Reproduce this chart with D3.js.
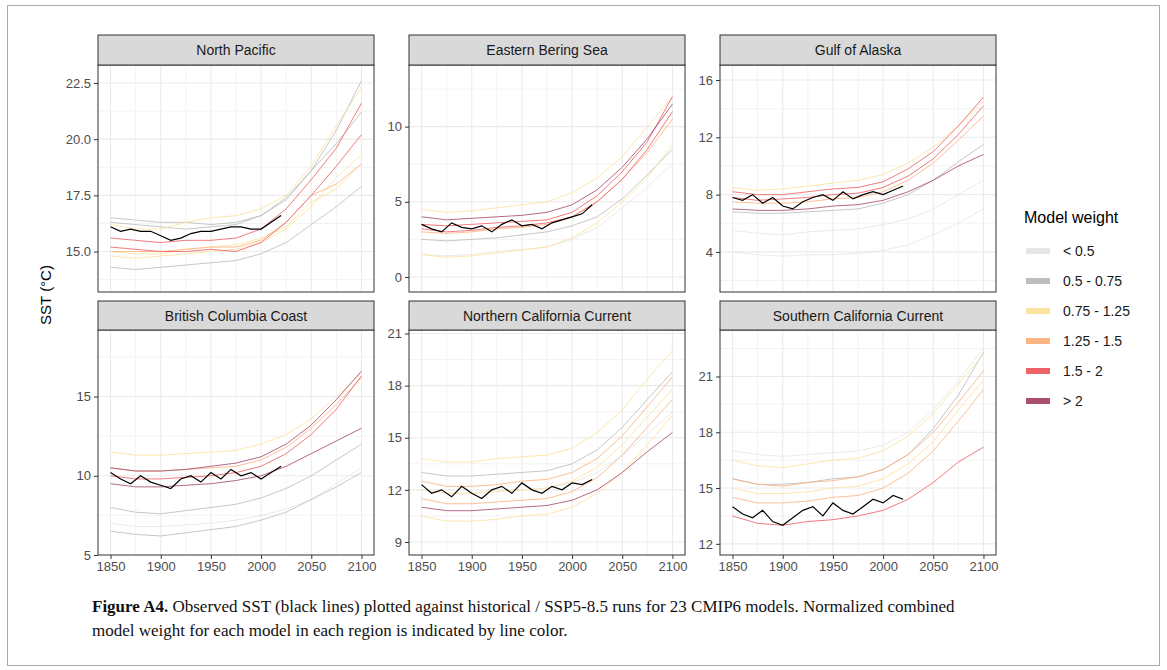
<!DOCTYPE html>
<html>
<head>
<meta charset="utf-8">
<script src="https://cdn.jsdelivr.net/npm/d3@7"></script>
<style>
  body { margin: 0; background: #fff; }
  svg { font-family: Arial, "Liberation Sans", sans-serif; }
</style>
</head>
<body>
<svg id="chart" width="1167" height="670"></svg>
<script>
// model years sampled every 25 years, observed every 10 years
var modelYears = [1850, 1875, 1900, 1925, 1950, 1975, 2000, 2025, 2050, 2075, 2100];
var obsYears = d3.range(1850, 2021, 10);
var xTicks = [1850, 1900, 1950, 2000, 2050, 2100];

var weightClasses = ['< 0.5', '0.5 - 0.75', '0.75 - 1.25', '1.25 - 1.5', '1.5 - 2', '> 2'];
var weightColors = ['#e6e6e6', '#bdbdbd', '#fde3a0', '#fcb482', '#ee6466', '#a8506e'];

var regions = ['North Pacific', 'Eastern Bering Sea', 'Gulf of Alaska',
  'British Columbia Coast', 'Northern California Current', 'Southern California Current'];
var yDomains = [[13.2, 23.3], [-1.0, 14.1], [1.2, 17.05], [5.0, 19.2], [8.25, 21.2], [11.4, 23.5]];
var yTicks = [[15, 17.5, 20, 22.5], [0, 5, 10], [4, 8, 12, 16], [5, 10, 15], [9, 12, 15, 18, 21], [12, 15, 18, 21]];

// [weight class index, values at modelYears]
var npModels = [
  [1, [16.5,16.4,16.3,16.3,16.2,16.3,16.6,17.3,18.6,20.4,22.6]],
  [1, [14.3,14.2,14.3,14.4,14.5,14.6,14.9,15.4,16.2,17.0,17.9]],
  [1, [16.3,16.2,16.1,16.0,16.1,16.2,16.6,17.4,18.6,19.8,21.2]],
  [2, [16.2,16.0,16.0,16.3,16.5,16.6,16.9,17.5,18.8,20.6,22.3]],
  [2, [14.8,14.7,14.8,14.9,15.0,15.1,15.4,16.0,17.0,18.3,19.3]],
  [2, [15.0,14.9,14.9,15.1,15.2,15.3,15.6,16.1,17.2,17.8,18.9]],
  [3, [15.0,15.0,15.0,15.1,15.2,15.2,15.5,16.3,17.5,18.0,18.9]],
  [4, [15.6,15.5,15.4,15.5,15.5,15.6,16.0,16.9,18.2,19.6,21.6]],
  [4, [15.2,15.1,15.0,15.0,15.1,15.0,15.4,16.3,17.5,18.8,20.2]]
];
var ebsModels = [
  [0, [1.5,1.4,1.5,1.7,1.8,2.0,2.5,3.3,4.6,6.0,7.5]],
  [1, [2.5,2.4,2.5,2.6,2.8,3.0,3.4,4.0,5.2,6.8,8.5]],
  [2, [4.5,4.3,4.4,4.6,4.8,5.0,5.6,6.6,8.0,10.0,12.0]],
  [2, [1.5,1.3,1.4,1.6,1.8,2.0,2.6,3.6,5.0,6.6,8.8]],
  [3, [3.0,2.9,3.0,3.2,3.3,3.5,4.0,5.0,6.5,8.3,10.5]],
  [4, [3.5,3.4,3.5,3.6,3.7,3.8,4.3,5.4,7.0,9.0,12.0]],
  [4, [3.2,3.0,3.1,3.3,3.4,3.6,4.0,5.0,6.5,8.5,11.0]],
  [5, [4.0,3.8,3.9,4.0,4.1,4.3,4.8,5.8,7.3,9.2,11.5]]
];
var goaModels = [
  [0, [4.0,3.8,3.7,3.8,3.8,3.9,4.1,4.5,5.2,6.0,7.0]],
  [0, [5.5,5.3,5.2,5.4,5.5,5.6,5.9,6.3,7.0,8.0,9.0]],
  [1, [6.8,6.7,6.7,6.8,6.9,7.0,7.4,8.0,9.0,10.3,11.5]],
  [2, [8.5,8.3,8.4,8.6,8.8,9.0,9.4,10.2,11.3,12.8,14.5]],
  [3, [7.5,7.4,7.4,7.5,7.7,7.8,8.2,9.0,10.2,11.8,13.5]],
  [4, [8.2,8.0,8.0,8.2,8.4,8.5,8.9,9.8,11.0,12.8,14.8]],
  [4, [7.8,7.6,7.7,7.8,8.0,8.1,8.5,9.3,10.5,12.2,14.2]],
  [5, [7.0,6.9,6.9,7.0,7.2,7.3,7.6,8.2,9.0,10.0,10.8]]
];
var bccModels = [
  [0, [7.0,6.8,6.8,6.9,7.0,7.2,7.5,7.9,8.5,9.5,10.5]],
  [1, [8.0,7.7,7.6,7.8,8.0,8.2,8.6,9.2,10.0,11.0,12.0]],
  [1, [6.5,6.3,6.2,6.4,6.6,6.8,7.2,7.7,8.5,9.3,10.2]],
  [2, [11.5,11.3,11.3,11.4,11.5,11.6,12.0,12.6,13.6,15.0,16.5]],
  [3, [10.5,10.3,10.3,10.4,10.5,10.6,11.0,11.8,13.0,14.5,16.2]],
  [4, [10.0,9.8,9.8,9.9,10.0,10.2,10.6,11.4,12.6,14.2,16.3]],
  [5, [9.5,9.3,9.3,9.4,9.5,9.7,10.0,10.6,11.4,12.2,13.0]],
  [5, [10.5,10.3,10.3,10.4,10.6,10.8,11.2,12.0,13.2,14.8,16.6]]
];
var nccModels = [
  [0, [12.0,11.8,11.8,12.0,12.0,12.1,12.4,13.0,14.0,15.2,16.5]],
  [1, [13.0,12.8,12.8,12.9,13.0,13.1,13.5,14.3,15.6,17.2,18.8]],
  [2, [13.8,13.6,13.6,13.8,13.9,14.0,14.4,15.3,16.6,18.4,20.0]],
  [2, [12.0,11.8,11.8,11.9,12.0,12.1,12.5,13.3,14.6,16.2,17.8]],
  [2, [10.5,10.2,10.2,10.3,10.5,10.6,11.0,11.8,13.0,14.6,16.3]],
  [3, [11.5,11.2,11.2,11.3,11.4,11.5,11.9,12.7,14.0,15.6,17.2]],
  [3, [12.5,12.2,12.2,12.3,12.5,12.6,13.0,13.8,15.1,16.8,18.5]],
  [5, [11.0,10.8,10.8,10.9,11.0,11.1,11.4,12.0,13.0,14.2,15.3]]
];
var sccModels = [
  [0, [17.0,16.8,16.7,16.8,16.9,17.0,17.3,18.0,19.2,20.8,22.5]],
  [1, [15.5,15.2,15.2,15.3,15.5,15.6,16.0,16.8,18.2,20.0,22.3]],
  [2, [16.5,16.2,16.1,16.3,16.5,16.6,17.0,17.8,19.0,20.6,22.2]],
  [2, [15.0,14.7,14.7,14.8,15.0,15.1,15.5,16.3,17.5,19.2,20.8]],
  [3, [14.5,14.2,14.2,14.3,14.5,14.6,15.0,15.8,17.0,18.6,20.3]],
  [3, [15.5,15.2,15.1,15.3,15.4,15.6,16.0,16.8,18.0,19.6,21.3]],
  [4, [13.5,13.1,13.0,13.2,13.3,13.5,13.8,14.4,15.3,16.4,17.2]]
];
var models = [npModels, ebsModels, goaModels, bccModels, nccModels, sccModels];

var observed = [
  [16.1,15.9,16.0,15.9,15.9,15.7,15.5,15.6,15.8,15.9,15.9,16.0,16.1,16.1,16.0,16.0,16.3,16.6],
  [3.5,3.2,3.0,3.6,3.3,3.2,3.4,3.0,3.5,3.8,3.4,3.5,3.2,3.6,3.8,4.0,4.2,4.8],
  [7.8,7.6,8.0,7.4,7.8,7.2,7.0,7.5,7.8,8.0,7.6,8.2,7.7,8.0,8.2,8.0,8.3,8.6],
  [10.2,9.8,9.5,10.0,9.6,9.4,9.2,9.8,10.0,9.6,10.2,9.8,10.4,10.0,10.2,9.8,10.2,10.6],
  [12.3,11.8,12.0,11.6,12.2,11.8,11.5,12.0,12.2,11.8,12.4,12.0,11.8,12.2,12.0,12.4,12.3,12.6],
  [14.0,13.6,13.4,13.8,13.2,13.0,13.4,13.8,14.0,13.5,14.2,13.8,13.6,14.0,14.4,14.2,14.6,14.4]
];

var svg = d3.select('#chart');

// figure frame
svg.append('rect').attr('x', 7.5).attr('y', 5.5).attr('width', 1152).attr('height', 660)
  .attr('fill', 'none').attr('stroke', '#aaa');

var panelX = [98, 409, 720];
var panelW = 276;
var rows = [{ strip: 35, top: 65, bottom: 292 }, { strip: 301, top: 330, bottom: 555 }];

regions.forEach(function(name, i) {
  var px = panelX[i % 3];
  var r = rows[Math.floor(i / 3)];
  var g = svg.append('g');

  var x = d3.scaleLinear().domain([1837.5, 2112.5]).range([px, px + panelW]);
  var y = d3.scaleLinear().domain(yDomains[i]).range([r.bottom, r.top]);

  // grid
  var minorX = d3.range(1825, 2126, 25).filter(function(v) { return v > 1837.5 && v < 2112.5; });
  var tk = yTicks[i];
  var step = tk[1] - tk[0];
  var minorY = d3.range(tk[0] - step * 2, tk[tk.length - 1] + step * 2, step / 2)
    .filter(function(v) { return v > yDomains[i][0] && v < yDomains[i][1]; });
  g.selectAll('.gx').data(minorX).enter().append('line')
    .attr('x1', x).attr('x2', x).attr('y1', r.top).attr('y2', r.bottom)
    .attr('stroke', '#ebebeb').attr('stroke-width', function(d) { return d % 50 === 0 ? 1.1 : 0.6; });
  g.selectAll('.gy').data(minorY).enter().append('line')
    .attr('y1', y).attr('y2', y).attr('x1', px).attr('x2', px + panelW)
    .attr('stroke', '#ebebeb').attr('stroke-width', function(d) { return tk.indexOf(d) >= 0 ? 1.1 : 0.6; });

  // model lines, low weights first
  var line = d3.line().x(function(d) { return x(d[0]); }).y(function(d) { return y(d[1]); });
  var sorted = models[i].slice().sort(function(a, b) { return a[0] - b[0]; });
  sorted.forEach(function(m) {
    g.append('path')
      .attr('d', line(modelYears.map(function(yr, j) { return [yr, m[1][j]]; })))
      .attr('fill', 'none').attr('stroke', weightColors[m[0]])
      .attr('stroke-opacity', 0.85).attr('stroke-width', 1);
  });

  g.append('path')
    .attr('d', line(obsYears.map(function(yr, j) { return [yr, observed[i][j]]; })))
    .attr('fill', 'none').attr('stroke', '#000').attr('stroke-width', 1.2);

  // panel border
  g.append('rect').attr('x', px).attr('y', r.top).attr('width', panelW).attr('height', r.bottom - r.top)
    .attr('fill', 'none').attr('stroke', '#333').attr('stroke-width', 1);

  // strip
  g.append('rect').attr('x', px).attr('y', r.strip).attr('width', panelW).attr('height', r.top - r.strip)
    .attr('fill', '#d9d9d9').attr('stroke', '#333').attr('stroke-width', 1);
  g.append('text').attr('x', px + panelW / 2).attr('y', (r.strip + r.top) / 2 + 5)
    .attr('text-anchor', 'middle').attr('font-size', 14).attr('fill', '#1a1a1a').text(name);

  // y axis
  var ya = g.append('g').attr('transform', 'translate(' + px + ',0)')
    .call(d3.axisLeft(y).tickValues(tk).tickSize(4).tickFormat(function(d) {
      return step < 3 && step % 1 !== 0 ? d3.format('.1f')(d) : d;
    }));
  ya.select('.domain').remove();
  ya.selectAll('line').attr('stroke', '#333');
  ya.selectAll('text').attr('font-size', 13).attr('fill', '#4d4d4d').attr('font-family', 'Arial, "Liberation Sans", sans-serif');

  if (i >= 3) {
    var xa = g.append('g').attr('transform', 'translate(0,' + r.bottom + ')')
      .call(d3.axisBottom(x).tickValues(xTicks).tickSize(4).tickFormat(d3.format('d')));
    xa.select('.domain').remove();
    xa.selectAll('line').attr('stroke', '#333');
    xa.selectAll('text').attr('font-size', 13).attr('fill', '#4d4d4d').attr('font-family', 'Arial, "Liberation Sans", sans-serif');
  }
});

// y label
svg.append('text').attr('transform', 'translate(51,295) rotate(-90)')
  .attr('text-anchor', 'middle').attr('font-size', 15).attr('fill', '#000').text('SST (°C)');

// legend
var leg = svg.append('g').attr('transform', 'translate(1024,0)');
leg.append('text').attr('x', 0).attr('y', 223).attr('font-size', 16).attr('fill', '#000').text('Model weight');
weightClasses.forEach(function(c, i) {
  var yy = 251 + i * 30;
  leg.append('line').attr('x1', 2).attr('x2', 26).attr('y1', yy).attr('y2', yy)
    .attr('stroke', weightColors[i]).attr('stroke-width', 6);
  leg.append('text').attr('x', 39).attr('y', yy + 5).attr('font-size', 14).attr('fill', '#1a1a1a').text(c);
});

// caption
var cap = svg.append('text').attr('font-family', '"Liberation Serif", "DejaVu Serif", serif')
  .attr('font-size', 17).attr('fill', '#111');
var l1 = cap.append('tspan').attr('x', 92).attr('y', 612);
l1.append('tspan').attr('font-weight', 'bold').text('Figure A4.');
l1.append('tspan').text(' Observed SST (black lines) plotted against historical / SSP5-8.5 runs for 23 CMIP6 models. Normalized combined');
cap.append('tspan').attr('x', 92).attr('y', 636)
  .text('model weight for each model in each region is indicated by line color.');
</script>
</body>
</html>
